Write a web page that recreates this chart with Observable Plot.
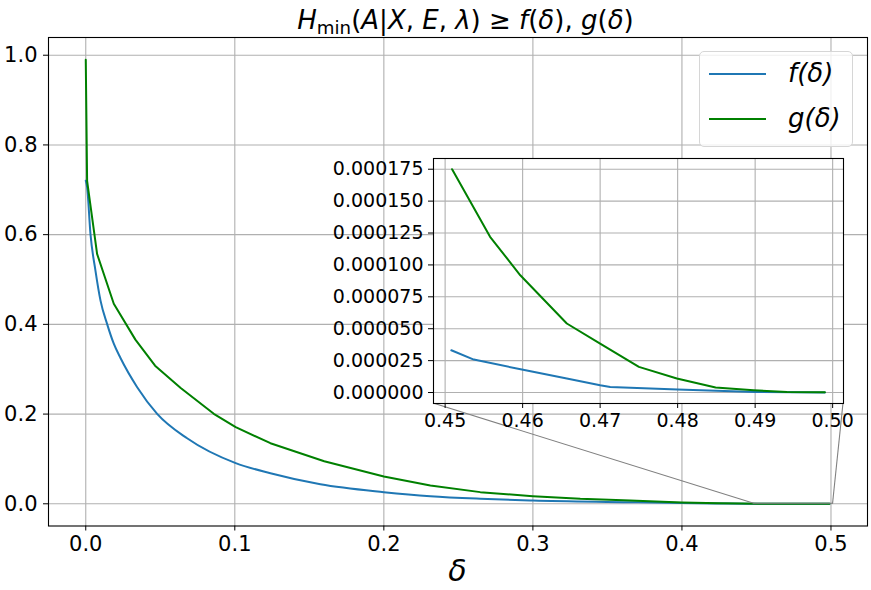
<!DOCTYPE html>
<html>
<head>
<meta charset="utf-8">
<script src="https://cdn.jsdelivr.net/npm/d3@7"></script>
<script src="https://cdn.jsdelivr.net/npm/@observablehq/plot@0.6"></script>
<style>
  html, body { margin: 0; padding: 0; background: white; }
  #wrap { position: relative; width: 871px; height: 590px; overflow: hidden; font-family: "DejaVu Sans", sans-serif; }
  #wrap svg { position: absolute; left: 0; top: 0; }
  #title { position: absolute; left: 56px; width: 819px; top: 2px; text-align: center; font-size: 26px; line-height: 36px; white-space: nowrap; }
  #title sub { font-size: 0.7em; vertical-align: -0.28em; line-height: 0; font-style: normal; }
  #xlabel { position: absolute; left: 48px; width: 819px; top: 553px; text-align: center; font-size: 30px; line-height: 36px; font-style: italic; }
  #legend { position: absolute; left: 699px; top: 51px; width: 154px; height: 96px; box-sizing: border-box; border: 1px solid #d6d6d6; border-radius: 5px; background: rgba(255,255,255,0.8); }
  .sw { position: absolute; left: 9px; width: 57px; height: 2px; }
  .lt { position: absolute; left: 88px; font-size: 26px; line-height: 30px; font-style: italic; }
</style>
</head>
<body>
<div id="wrap">
  <div id="title"></div>
  <div id="xlabel">δ</div>
  <div id="legend"></div>
</div>
<script>
// ---- data ----
const seriesNames = ["f(δ)", "g(δ)"];
const seriesColors = ["#1f77b4", "#008000"];

const fDelta = [0, 0.0009, 0.0032, 0.0065, 0.0099, 0.0144, 0.0188, 0.0233, 0.0345, 0.0479, 0.068, 0.1006, 0.1239, 0.1574, 0.2, 0.2312, 0.2647, 0.3, 0.3653, 0.4, 0.43,
                0.4508, 0.4537, 0.4599, 0.4657, 0.47, 0.4713, 0.48, 0.49, 0.499];
const fValues = [0.72, 0.706, 0.600, 0.52, 0.453, 0.40, 0.357, 0.325, 0.26, 0.2006, 0.146, 0.0906, 0.0682, 0.0435, 0.026, 0.0168, 0.0112, 0.0074, 0.0036, 0.0015, 0.0004,
                 0.0000331, 0.0000258, 0.000018, 0.000011, 0.0000057, 0.0000044, 0.0000023, 0.0000005, 0.0000001];

const gDelta = [0, 0.0009, 0.0076, 0.0188, 0.0333, 0.0465, 0.0637, 0.0859, 0.1006, 0.1239, 0.16, 0.2, 0.2312, 0.2647, 0.3, 0.3318, 0.3653, 0.4, 0.425, 0.44,
                0.4509, 0.4558, 0.4597, 0.4657, 0.47, 0.475, 0.4799, 0.4849, 0.4898, 0.4941, 0.499];
const gValues = [0.99, 0.72, 0.557, 0.446, 0.366, 0.308, 0.258, 0.2006, 0.1708, 0.1351, 0.095, 0.0609, 0.0408, 0.026, 0.017, 0.011, 0.0074, 0.003, 0.001, 0.0004,
                 0.000175, 0.000122, 0.0000919, 0.0000541, 0.0000384, 0.0000201, 0.000011, 0.0000039, 0.0000018, 0.0000005, 0.0000002];

const xTicks = [0, 0.1, 0.2, 0.3, 0.4, 0.5];
const xTickLabels = ["0.0", "0.1", "0.2", "0.3", "0.4", "0.5"];
const yTicks = [0, 0.2, 0.4, 0.6, 0.8, 1.0];
const yTickLabels = ["0.0", "0.2", "0.4", "0.6", "0.8", "1.0"];
const mainXDomain = [-0.025, 0.5245];
const mainYDomain = [-0.0495, 1.0395];

const insetXTicks = [0.45, 0.46, 0.47, 0.48, 0.49, 0.50];
const insetXTickLabels = ["0.45", "0.46", "0.47", "0.48", "0.49", "0.50"];
const insetYTicks = [0, 0.000025, 0.00005, 0.000075, 0.0001, 0.000125, 0.00015, 0.000175];
const insetYTickLabels = ["0.000000", "0.000025", "0.000050", "0.000075", "0.000100", "0.000125", "0.000150", "0.000175"];
const insetXDomain = [0.4485, 0.5014];
const insetYDomain = [-0.0000086, 0.0001834];
const insetStart = 0.45;

// ---- build tables ----
const fRows = fDelta.map((d, i) => ({delta: d, value: fValues[i]}));
const gRows = gDelta.map((d, i) => ({delta: d, value: gValues[i]}));
const fInset = fRows.filter(r => r.delta >= insetStart);
const gInset = gRows.filter(r => r.delta >= insetStart);
const lab = (ticks, labels) => d => labels[ticks.indexOf(d)];

const gridStyle = {stroke: "#b0b0b0", strokeOpacity: 1, strokeWidth: 1.1};

const main = Plot.plot({
  width: 871, height: 590,
  marginLeft: 48, marginRight: 4, marginTop: 37, marginBottom: 64.5,
  style: {fontFamily: "DejaVu Sans", background: "transparent", color: "black", overflow: "visible"},
  x: {domain: mainXDomain},
  y: {domain: mainYDomain},
  marks: [
    Plot.gridX(xTicks, gridStyle),
    Plot.gridY(yTicks, gridStyle),
    Plot.line(fRows, {x: "delta", y: "value", stroke: seriesColors[0], strokeWidth: 2, curve: "monotone-x"}),
    Plot.line(gRows, {x: "delta", y: "value", stroke: seriesColors[1], strokeWidth: 2}),
    Plot.rect([{x1: insetXDomain[0], x2: insetXDomain[1], y1: insetYDomain[0], y2: insetYDomain[1]}],
      {x1: "x1", x2: "x2", y1: "y1", y2: "y2", fill: "none", stroke: "#808080", strokeWidth: 1}),
    Plot.frame({stroke: "black", strokeWidth: 1.1}),
    Plot.axisX({ticks: xTicks, tickFormat: lab(xTicks, xTickLabels), fontSize: 21, tickSize: 5, tickPadding: 5, label: null}),
    Plot.axisY({ticks: yTicks, tickFormat: lab(yTicks, yTickLabels), fontSize: 21, tickSize: 5, tickPadding: 6, label: null})
  ]
});

const inset = Plot.plot({
  width: 871, height: 590,
  marginLeft: 433, marginRight: 28, marginTop: 158, marginBottom: 187,
  style: {fontFamily: "DejaVu Sans", background: "transparent", color: "black", overflow: "visible"},
  x: {domain: insetXDomain},
  y: {domain: insetYDomain},
  marks: [
    Plot.frame({fill: "white", stroke: "none"}),
    Plot.gridX(insetXTicks, gridStyle),
    Plot.gridY(insetYTicks, gridStyle),
    Plot.line(fInset, {x: "delta", y: "value", stroke: seriesColors[0], strokeWidth: 2, clip: true}),
    Plot.line(gInset, {x: "delta", y: "value", stroke: seriesColors[1], strokeWidth: 2, clip: true}),
    Plot.frame({stroke: "black", strokeWidth: 1.1}),
    Plot.axisX({ticks: insetXTicks, tickFormat: lab(insetXTicks, insetXTickLabels), fontSize: 19, tickSize: 5, tickPadding: 5, label: null}),
    Plot.axisY({ticks: insetYTicks, tickFormat: lab(insetYTicks, insetYTickLabels), fontSize: 19, tickSize: 5, tickPadding: 5, label: null})
  ]
});

const wrap = document.getElementById("wrap");
wrap.insertBefore(main, wrap.firstChild);
wrap.insertBefore(inset, main.nextSibling);

// connector lines from the zoom rectangle to the inset corners
const mx = main.scale("x"), my = main.scale("y"), ix = inset.scale("x"), iy = inset.scale("y");
const connectors = [
  {x1: mx.apply(insetXDomain[0]), y1: my.apply(insetYDomain[0]), x2: ix.apply(insetXDomain[0]), y2: iy.apply(insetYDomain[0])},
  {x1: mx.apply(insetXDomain[1]), y1: my.apply(insetYDomain[0]), x2: ix.apply(insetXDomain[1]), y2: iy.apply(insetYDomain[0])}
];
d3.select(main).append("g").selectAll("line").data(connectors).join("line")
  .attr("x1", d => d.x1).attr("y1", d => d.y1).attr("x2", d => d.x2).attr("y2", d => d.y2)
  .attr("stroke", "#808080").attr("stroke-width", 1.1);

// title
document.getElementById("title").innerHTML =
  "<i>H</i><sub>min</sub>(<i>A</i>|<i>X</i>, <i>E</i>, <i>λ</i>) ≥ <i>f</i>(<i>δ</i>), <i>g</i>(<i>δ</i>)";

// legend
const legend = document.getElementById("legend");
const rowTops = [21, 66];
seriesNames.forEach((name, i) => {
  const sw = document.createElement("div");
  sw.className = "sw"; sw.style.top = rowTops[i] + "px"; sw.style.background = seriesColors[i];
  legend.appendChild(sw);
  const t = document.createElement("div");
  t.className = "lt"; t.style.top = (rowTops[i] - 15) + "px"; t.textContent = name;
  legend.appendChild(t);
});
</script>
</body>
</html>
